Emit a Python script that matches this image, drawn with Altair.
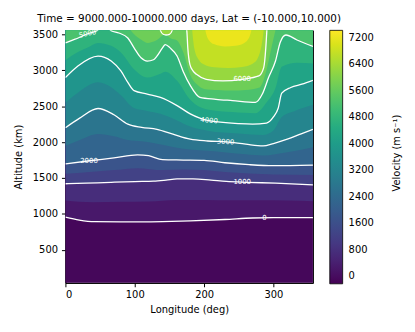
import altair as alt
import pandas as pd

TITLE = "Time = 9000.000-10000.000 days, Lat = (-10.000,10.000)"
CBAR_TITLE = "Velocity (m s⁻¹)"
LON_MAX = 357
ALT_MIN, ALT_MAX = 41, 3555
ALT_BEYOND = 3700
VMIN, VMAX = -220, 7430
FONT = "DejaVu Sans"

# ---- drawn contour lines (every 1000 m/s) ----
c0_lon = [0, 20, 42, 80, 110, 140, 180, 230, 270, 300, 357]
c0_alt = [955, 915, 893, 890, 890, 893, 903, 922, 943, 948, 948]

c1000_lon = [0, 30, 66, 100, 127, 145, 161, 184, 210, 232, 260, 303, 357]
c1000_alt = [1420, 1428, 1440, 1450, 1455, 1470, 1488, 1488, 1470, 1452, 1440, 1428, 1405]

c2000_lon = [0, 35, 70, 104, 120, 140, 170, 200, 230, 265, 300, 357]
c2000_alt = [1695, 1740, 1780, 1823, 1810, 1755, 1750, 1745, 1712, 1685, 1671, 1680]

c3000_lon = [0, 20, 47, 70, 90, 110, 132, 155, 180, 205, 232, 260, 285, 300, 320, 340, 357]
c3000_alt = [2200, 2330, 2467, 2380, 2250, 2205, 2177, 2110, 2040, 2015, 2002, 1970, 1947, 1980, 2040, 2115, 2177]

c4000_lon = [0, 18, 47, 66, 80, 90, 99, 118, 137, 161, 180, 205, 250, 270, 290, 300, 307, 312, 325, 341, 357]
c4000_alt = [2898, 3059, 3197, 3128, 2990, 2830, 2715, 2668, 2622, 2508, 2392, 2301, 2256, 2250, 2265, 2350, 2475, 2680, 2760, 2806, 2860]

c5000_lon = [0, 13, 33, 46, 56, 66, 77, 90, 99, 109, 118, 127, 132, 140, 144, 151, 161, 170, 180,
             194, 217, 241, 274, 284, 293, 303, 310, 318, 334, 357]
c5000_alt = [3380, 3428, 3511, 3555, 3640, 3550, 3518, 3449, 3311, 3174, 3128, 3146, 3197, 3311, 3357, 3311, 3197, 2980, 2788,
             2622, 2595, 2577, 2553, 2668, 2898, 3128, 3394, 3490, 3421, 3330]

c6000a_lon = [172, 175, 176.5, 179.5, 184, 189, 203, 227, 255, 279, 286, 289, 291]
c6000a_alt = [3640, 3555, 3311, 3081, 2990, 2943, 2874, 2852, 2874, 2921, 3036, 3311, 3640]
c6000b_lon = [135, 137, 141, 145, 150, 154, 156]
c6000b_alt = [3640, 3555, 3500, 3490, 3500, 3555, 3640]

# ---- fill-only levels (estimated from the colour bands) ----
c500_lon = [0, 40, 80, 120, 160, 200, 240, 280, 320, 357]
c500_alt = [1187, 1163, 1168, 1172, 1192, 1194, 1189, 1190, 1185, 1177]

c1500_lon = [0, 35, 70, 104, 140, 170, 200, 230, 265, 300, 357]
c1500_alt = [1558, 1585, 1610, 1637, 1610, 1619, 1611, 1583, 1562, 1550, 1543]

c2500_lon = [0, 20, 47, 70, 90, 110, 132, 155, 180, 205, 232, 260, 285, 320, 357]
c2500_alt = [1948, 2025, 2111, 2080, 2028, 2010, 1976, 1932, 1895, 1878, 1856, 1829, 1812, 1857, 1929]

c3500_lon = [0, 18, 47, 66, 80, 99, 118, 137, 161, 180, 205, 250, 285, 300, 312, 330, 357]
c3500_alt = [2549, 2688, 2832, 2762, 2652, 2473, 2432, 2393, 2300, 2216, 2158, 2118, 2098, 2160, 2348, 2430, 2518]

c4500_lon = [0, 18, 33, 47, 66, 80, 99, 118, 137, 144, 161, 180, 205, 241, 274, 290, 303, 312, 334, 357]
c4500_alt = [3139, 3252, 3320, 3380, 3339, 3245, 3013, 2898, 2951, 2980, 2853, 2590, 2455, 2418, 2401, 2550, 2754, 3050, 3103, 3095]

c5500_lon = [88, 99, 110, 118, 132, 144, 152, 160, 170, 180, 190, 200, 220, 240, 260, 280, 290, 298, 305]
c5500_alt = [3640, 3500, 3420, 3380, 3420, 3500, 3440, 3420, 3250, 2935, 2800, 2740, 2725, 2716, 2725, 2760, 3000, 3350, 3640]

c6500_lon = [182, 186, 192, 200, 215, 235, 255, 270, 278, 283, 287]
c6500_alt = [3640, 3300, 3150, 3080, 3040, 3030, 3045, 3090, 3180, 3350, 3640]

c7000_lon = [200, 205, 215, 230, 245, 258, 266, 270]
c7000_alt = [3640, 3450, 3360, 3330, 3340, 3380, 3480, 3640]

# contour label texts
lab_text = ["5000", "6000", "4000", "3000", "2000", "1000", "0"]
lab_lon = [32, 255, 207, 231, 34, 255, 287]
lab_alt = [3505, 2872, 2298, 2002, 1742, 1447, 948]
lab_ang = [340, 0, 5, 3, 352, 0, 0]

# colour bar ticks
cbar_ticks = [0, 800, 1600, 2400, 3200, 4000, 4800, 5600, 6400, 7200]

# ---------- build tables ----------
fills = [
    (0, 500, "a", c0_lon, c0_alt), (500, 1000, "a", c500_lon, c500_alt),
    (1000, 1500, "a", c1000_lon, c1000_alt), (1500, 2000, "a", c1500_lon, c1500_alt),
    (2000, 2500, "a", c2000_lon, c2000_alt), (2500, 3000, "a", c2500_lon, c2500_alt),
    (3000, 3500, "a", c3000_lon, c3000_alt), (3500, 4000, "a", c3500_lon, c3500_alt),
    (4000, 4500, "a", c4000_lon, c4000_alt), (4500, 5000, "a", c4500_lon, c4500_alt),
    (5000, 5500, "a", c5000_lon, c5000_alt), (5500, 6000, "a", c5500_lon, c5500_alt),
    (6000, 6500, "a", c6000a_lon, c6000a_alt), (6000, 6500, "b", c6000b_lon, c6000b_alt),
    (6500, 7000, "a", c6500_lon, c6500_alt), (7000, VMAX, "a", c7000_lon, c7000_alt),
]
rows = []
for i, (lo, hi, seg, lons, alts) in enumerate(fills):
    for lo_, al_ in zip(lons, alts):
        rows.append({"order": i, "key": f"{lo}{seg}", "lon": lo_, "alt": al_,
                     "top": ALT_BEYOND, "mid": (lo + hi) / 2})
fill_df = pd.DataFrame(rows)

lines = [(0, "a", c0_lon, c0_alt), (1000, "a", c1000_lon, c1000_alt),
         (2000, "a", c2000_lon, c2000_alt), (3000, "a", c3000_lon, c3000_alt),
         (4000, "a", c4000_lon, c4000_alt), (5000, "a", c5000_lon, c5000_alt),
         (6000, "a", c6000a_lon, c6000a_alt), (6000, "b", c6000b_lon, c6000b_alt)]
lrows = []
for lev, seg, lons, alts in lines:
    for lo_, al_ in zip(lons, alts):
        lrows.append({"key": f"{lev}{seg}", "lon": lo_, "alt": al_})
line_df = pd.DataFrame(lrows)

lab_df = pd.DataFrame({"t": lab_text, "lon": lab_lon, "alt": lab_alt, "ang": lab_ang})
base_df = pd.DataFrame({"lon0": [0], "lon1": [LON_MAX], "a0": [ALT_MIN], "a1": [ALT_MAX],
                        "mid": [(VMIN + 0) / 2]})
ctitle_df = pd.DataFrame({"t": [CBAR_TITLE]})

xs = alt.Scale(domain=[0, LON_MAX], nice=False, zero=False)
ys = alt.Scale(domain=[ALT_MIN, ALT_MAX], nice=False, zero=False)
cs = alt.Scale(scheme="viridis", domain=[VMIN, VMAX])
legend = alt.Legend(title=None, values=cbar_ticks, format="d", gradientLength=256,
                    gradientThickness=13, labelFont=FONT, labelFontSize=10, labelOffset=6,
                    labelColor="black",
                    gradientStrokeColor="black", gradientStrokeWidth=0.8, offset=17, padding=0)
color = alt.Color("mid:Q", scale=cs, legend=legend)

xaxis = alt.Axis(title="Longitude (deg)", values=[0, 100, 200, 300], grid=False, format="d")
yaxis = alt.Axis(title="Altitude (km)", values=[500, 1000, 1500, 2000, 2500, 3000, 3500],
                 grid=False, format="d", labelPadding=4, titlePadding=9)

base = alt.Chart(base_df).mark_rect().encode(
    x=alt.X("lon0:Q", scale=xs, axis=xaxis), x2="lon1:Q",
    y=alt.Y("a0:Q", scale=ys, axis=yaxis), y2="a1:Q", color=color)

layers = [base]
for i in range(len(fills)):
    layers.append(
        alt.Chart(fill_df).transform_filter(alt.datum.order == i)
        .mark_area(interpolate="monotone", clip=True)
        .encode(x=alt.X("lon:Q", scale=xs), y=alt.Y("alt:Q", scale=ys), y2="top:Q",
                detail="key:N", color=color)
    )

contour_lines = alt.Chart(line_df).mark_line(interpolate="monotone", clip=True, color="white",
                                             strokeWidth=1.3).encode(
    x=alt.X("lon:Q", scale=xs), y=alt.Y("alt:Q", scale=ys), detail="key:N")

labels = alt.Chart(lab_df).mark_text(color="white", fontSize=7, font=FONT).encode(
    x=alt.X("lon:Q", scale=xs), y=alt.Y("alt:Q", scale=ys), text="t:N", angle="ang:Q")

cbar_title = alt.Chart(ctitle_df).mark_text(
    font=FONT, fontSize=10, color="black", angle=270, align="center", baseline="middle"
).encode(x=alt.value(335), y=alt.value(124), text="t:N")

chart = alt.layer(*layers, contour_lines, labels, cbar_title).properties(
    width=250, height=255,
    title=alt.TitleParams(TITLE, fontSize=10.5, fontWeight="normal", font=FONT, anchor="middle", offset=4),
    padding={"left": 5, "top": 4, "right": 5, "bottom": 5},
).configure_view(stroke="black", strokeWidth=1).configure_axis(
    labelFont=FONT, titleFont=FONT, labelFontSize=10, titleFontSize=10, titleFontWeight="normal",
    tickSize=4, tickColor="black", domainColor="black", labelColor="black", titleColor="black",
    labelPadding=3, titlePadding=5,
).configure_title(color="black")

chart.save("out.html", embed_options={"renderer": "svg", "actions": False})
